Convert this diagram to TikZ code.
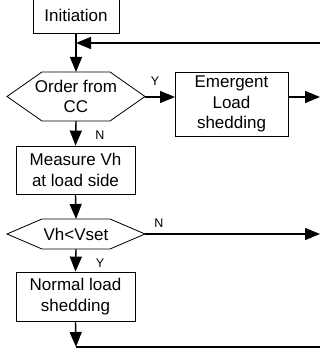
\documentclass[tikz,border=0pt]{standalone}
\usepackage{fontspec}
\setmainfont{Liberation Sans}
\usetikzlibrary{arrows.meta}
\begin{document}
\begin{tikzpicture}[x=1pt,y=-1pt,
  box/.style={draw, line width=0.8pt, inner sep=0pt, align=center, font=\fontsize{17}{20.5}\selectfont},
  hexline/.style={draw, line width=0.8pt},
  txt/.style={font=\fontsize{17}{20.5}\selectfont, align=center, inner sep=0pt},
  lab/.style={font=\fontsize{12.5}{14}\selectfont, inner sep=0pt},
  flow/.style={line width=1.4pt, -{Triangle[length=15pt,width=12pt]}},
  plainline/.style={line width=1.4pt}]
\useasboundingbox (0,0) rectangle (320,350);
% boxes
\node[box, minimum width=86pt, minimum height=35pt] (ini) at (76,15.5) {Initiation};
\node[box, minimum width=113pt, minimum height=64pt] (emerg) at (231.5,104) {Emergent\\Load\\shedding};
\node[box, minimum width=119pt, minimum height=48pt] (meas) at (75.5,170) {Measure Vh\\at load side};
\node[box, minimum width=119pt, minimum height=49pt] (norm) at (75.5,296.5) {Normal load\\shedding};
% hexagon 1
\draw[hexline] (7,96.5) -- (42,72) -- (110,72) -- (145,96.5) -- (110,121) -- (42,121) -- cycle;
\node[txt] (h1) at (76,96.5) {Order from\\CC};
\coordinate (h1n) at (76,72);
\coordinate (h1s) at (76,121);
\coordinate (h1e) at (145,97);
% hexagon 2
\draw[hexline] (7,234) -- (42,219) -- (110,219) -- (145,234) -- (110,249) -- (42,249) -- cycle;
\node[txt] (h2) at (76,234) {Vh<Vset};
\coordinate (h2n) at (76,219);
\coordinate (h2s) at (76,249);
\coordinate (h2e) at (145,234);
% free ends
\coordinate (fbin) at (320,43);
\coordinate (join) at (76,43);
\coordinate (eout) at (320,97);
\coordinate (emw) at (175,97);
\coordinate (eme) at (288,97);
\coordinate (nout) at (320,234);
\coordinate (bend) at (76,347);
\coordinate (bout) at (320,347);
% connectors
\draw[flow] (ini.south) -- (h1n);
\draw[flow] (fbin) -- (join);
\draw[flow] (h1e) -- (emw);
\draw[flow] (eme) -- (eout);
\draw[flow] (h1s) -- (meas.north);
\draw[flow] (meas.south) -- (h2n);
\draw[flow] (h2e) -- (nout);
\draw[flow] (h2s) -- (norm.north);
\draw[flow] (norm.south) -- (bend);
\draw[plainline] (bend) -- (bout);
% labels
\node[lab] (ly1) at (155,81) {Y};
\node[lab] (ln1) at (100,135) {N};
\node[lab] (ln2) at (159,223) {N};
\node[lab] (ly2) at (100,263) {Y};
\end{tikzpicture}
\end{document}
